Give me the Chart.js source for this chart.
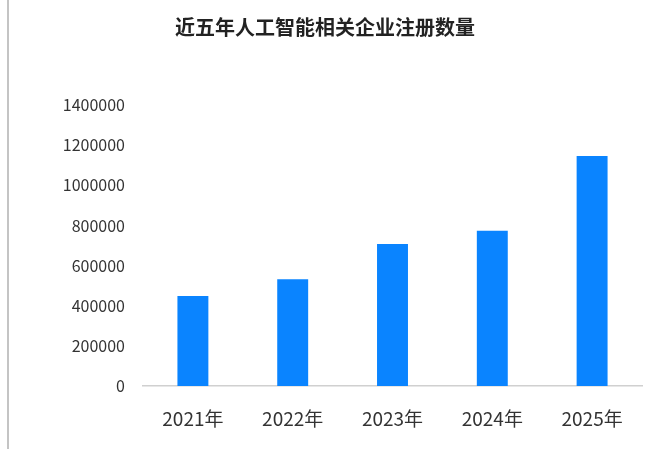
<!DOCTYPE html>
<html>
<head>
<meta charset="utf-8">
<script src="https://cdn.jsdelivr.net/npm/chart.js@4/dist/chart.umd.min.js"></script>
<style>
  html, body { margin: 0; padding: 0; background: #fff; }
  .wrap { position: relative; width: 663px; height: 449px; }
  .edge { position: absolute; left: 7px; top: 0; width: 2px; height: 449px; background: #c4c4c4; }
</style>
</head>
<body>
<div class="wrap">
  <canvas id="regChart" width="663" height="449"></canvas>
  <div class="edge"></div>
</div>
<script>
// --- data ---
const years = ['2021年', '2022年', '2023年', '2024年', '2025年'];
const registrations = [448000, 532000, 707000, 774000, 1146000];
const yTicks = [0, 200000, 400000, 600000, 800000, 1000000, 1200000, 1400000];

const FONT = '"Noto Sans CJK SC", "Noto Sans", sans-serif';

const ctx = document.getElementById('regChart').getContext('2d');
const regChart = new Chart(ctx, {
    type: 'bar',
    data: {
        labels: years,
        datasets: [{
            label: '注册数量',
            data: registrations,
            backgroundColor: '#0a84ff',
            categoryPercentage: 1,
            barPercentage: 0.31
        }]
    },
    options: {
        responsive: false,
        animation: false,
        layout: { padding: { left: 8, right: 21, top: 0, bottom: 0 } },
        plugins: {
            legend: { display: false },
            tooltip: { enabled: false },
            title: {
                display: true,
                text: '近五年人工智能相关企业注册数量',
                color: '#222',
                font: { family: FONT, size: 20, weight: 'bold' },
                padding: { top: 15, bottom: 66 }
            }
        },
        scales: {
            x: {
                grid: { display: false },
                border: { display: true, color: '#d0d0d0', width: 1.5 },
                ticks: { color: '#333', font: { family: FONT, size: 19 }, padding: 13 },
                afterFit: s => { s.height = 63; }
            },
            y: {
                min: 0,
                max: yTicks[yTicks.length - 1],
                grid: { display: false, drawTicks: false },
                border: { display: false },
                afterBuildTicks: s => { s.ticks = yTicks.map(v => ({ value: v })); },
                ticks: {
                    color: '#333',
                    font: { family: FONT, size: 16 },
                    padding: 18,
                    callback: v => String(v)
                },
                afterFit: s => { s.width = 135; }
            }
        }
    }
});
</script>
</body>
</html>
